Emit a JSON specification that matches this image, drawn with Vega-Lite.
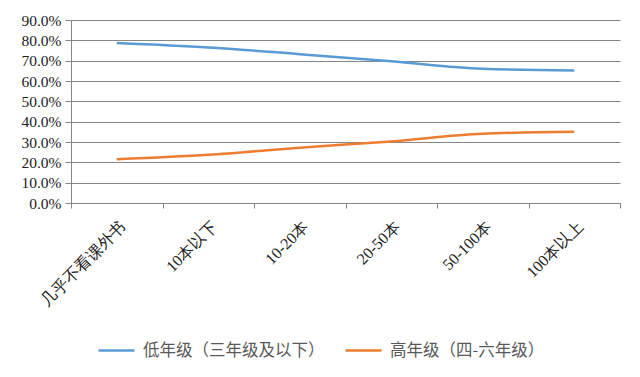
{
  "$schema": "https://vega.github.io/schema/vega-lite/v6.json",
  "width": 549,
  "height": 183,
  "autosize": {"type": "none"},
  "padding": {"left": 71, "top": 20, "right": 20, "bottom": 174},
  "background": "white",
  "data": {
    "values": [
      {"cat": "几乎不看课外书", "series": "低年级（三年级及以下）", "v": 0.787},
      {"cat": "10本以下", "series": "低年级（三年级及以下）", "v": 0.765},
      {"cat": "10-20本", "series": "低年级（三年级及以下）", "v": 0.732},
      {"cat": "20-50本", "series": "低年级（三年级及以下）", "v": 0.697},
      {"cat": "50-100本", "series": "低年级（三年级及以下）", "v": 0.660},
      {"cat": "100本以上", "series": "低年级（三年级及以下）", "v": 0.652},
      {"cat": "几乎不看课外书", "series": "高年级（四-六年级）", "v": 0.215},
      {"cat": "10本以下", "series": "高年级（四-六年级）", "v": 0.237},
      {"cat": "10-20本", "series": "高年级（四-六年级）", "v": 0.272},
      {"cat": "20-50本", "series": "高年级（四-六年级）", "v": 0.303},
      {"cat": "50-100本", "series": "高年级（四-六年级）", "v": 0.341},
      {"cat": "100本以上", "series": "高年级（四-六年级）", "v": 0.350}
    ]
  },
  "mark": {"type": "line", "interpolate": "monotone", "strokeWidth": 2.5},
  "encoding": {
    "x": {
      "field": "cat",
      "type": "nominal",
      "sort": null,
      "title": null,
      "scale": {"type": "band", "paddingInner": 0, "paddingOuter": 0},
      "axis": {
        "tickBand": "extent",
        "labelAngle": -45,
        "labelFont": "Liberation Serif",
        "labelFontSize": 16,
        "labelColor": "#222222",
        "domainColor": "#868686",
        "tickColor": "#868686",
        "tickSize": 5,
        "grid": false,
        "labelPadding": 10
      }
    },
    "y": {
      "field": "v",
      "type": "quantitative",
      "title": null,
      "scale": {"domain": [0, 0.9], "nice": false},
      "axis": {
        "format": ".1%",
        "values": [0, 0.1, 0.2, 0.3, 0.4, 0.5, 0.6, 0.7, 0.8, 0.9],
        "labelFont": "Liberation Serif",
        "labelFontSize": 15.5,
        "labelColor": "#222222",
        "domainColor": "#868686",
        "tickColor": "#868686",
        "gridColor": "#868686",
        "tickSize": 6,
        "labelPadding": 4
      }
    },
    "color": {
      "field": "series",
      "type": "nominal",
      "title": null,
      "scale": {"range": ["#5B9BD5", "#ED7D31"]},
      "legend": {
        "orient": "none",
        "legendX": 26,
        "legendY": 311,
        "direction": "horizontal",
        "symbolType": "stroke",
        "symbolSize": 1296,
        "symbolStrokeWidth": 2.5,
        "labelFont": "Noto Sans CJK SC",
        "labelFontSize": 16.5,
        "labelColor": "#595959",
        "columnPadding": 15,
        "labelOffset": 7,
        "labelLimit": 300
      }
    }
  },
  "config": {"view": {"stroke": null}}
}
